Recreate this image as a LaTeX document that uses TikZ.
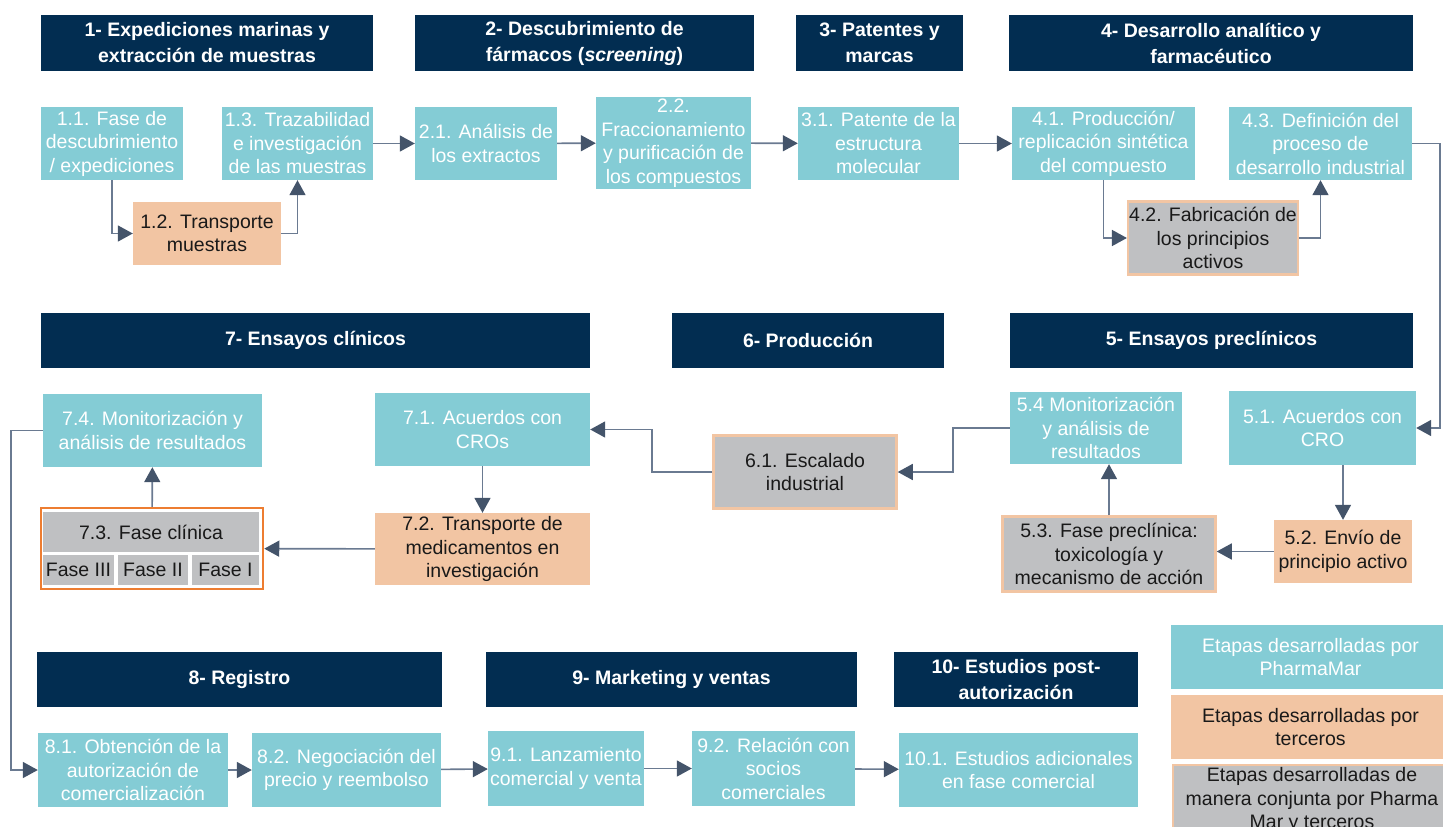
\documentclass[tikz,border=0pt]{standalone}
\usepackage{fontspec}
\setmainfont{Liberation Sans}
\usetikzlibrary{arrows.meta}
\definecolor{pmnavy}{HTML}{022D51}
\definecolor{pmteal}{HTML}{84CCD5}
\definecolor{pmpeach}{HTML}{F2C5A3}
\definecolor{pmgrey}{HTML}{BFC0C2}
\definecolor{pmorange}{HTML}{ED7D31}
\definecolor{pmline}{HTML}{6A7A91}
\definecolor{pmtip}{HTML}{44546A}
\newcommand{\boxfont}{\fontsize{19.5}{23.5}\selectfont}
\tikzset{
  every node/.style={inner sep=1pt, align=center},
  sz/.style 2 args={minimum width=#1, minimum height=#2},
  hdr/.style={fill=pmnavy, text=white, font=\bfseries\fontsize{19.5}{26}\selectfont},
  pm/.style={fill=pmteal, text=white, font=\boxfont},
  ter/.style={fill=pmpeach, text=black!90, font=\boxfont},
  mix/.style={fill=pmgrey, draw=pmpeach, line width=2.5pt, text=black!90, font=\boxfont},
  cell/.style={fill=pmgrey, text=black!90, font=\boxfont},
  flow/.style={draw=pmline, line width=1.6pt, -{Triangle[length=15pt,width=16pt,color=pmtip]}}
}
\begin{document}
\begin{tikzpicture}[x=1pt,y=-1pt]
\path[use as bounding box] (0,0) rectangle (1443,827);
\clip (0,0) rectangle (1443,827);
\fill[white] (0,0) rectangle (1443,827);

% headers
\node[hdr, sz={332}{56}] (h1) at (207,43) {1- Expediciones marinas y\\extracción de muestras};
\node[hdr, sz={339}{56}] (h2) at (584.5,43) {2- Descubrimiento de\\fármacos (\textit{screening})};
\node[hdr, sz={167}{56}] (h3) at (879.5,43) {3- Patentes y\\marcas};
\node[hdr, sz={404}{56}] (h4) at (1211,43) {4- Desarrollo analítico y\\farmacéutico};
\node[hdr, sz={549}{55}] (h7) at (315.5,340.5) {7- Ensayos clínicos};
\node[hdr, sz={272}{55}] (h6) at (808,340.5) {6- Producción};
\node[hdr, sz={403}{55}] (h5) at (1211.5,340.5) {5- Ensayos preclínicos};
\node[hdr, sz={405}{55}] (h8) at (239.5,679.5) {8- Registro};
\node[hdr, sz={371}{55}] (h9) at (671.5,679.5) {9- Marketing y ventas};
\node[hdr, sz={244}{55}] (h10) at (1016,679.5) {10- Estudios post-\\autorización};

% row 1
\node[pm, sz={142}{73}] (n11) at (112,143.5) {1.1. Fase de\\descubrimiento\\/ expediciones};
\node[ter, sz={148}{63}] (n12) at (207,233.5) {1.2. Transporte\\muestras};
\node[pm, sz={151}{73}] (n13) at (297.5,143.5) {1.3. Trazabilidad\\e investigación\\de las muestras};
\node[pm, sz={142}{73}] (n21) at (486,143.5) {2.1. Análisis de\\los extractos};
\node[pm, sz={155}{92}] (n22) at (673.5,143) {2.2.\\Fraccionamiento\\y purificación de\\los compuestos};
\node[pm, sz={161}{73}] (n31) at (878.5,143.5) {3.1. Patente de la\\estructura\\molecular};
\node[pm, sz={183}{73}] (n41) at (1103.5,143.5) {4.1. Producción/\\replicación sintética\\del compuesto};
\node[mix, sz={167}{73}] (n42) at (1213,238) {4.2. Fabricación de\\los principios\\activos};
\node[pm, sz={183}{73}] (n43) at (1320.5,143.5) {4.3. Definición del\\proceso de\\desarrollo industrial};

% row 2
\node[pm, sz={187}{74}] (n51) at (1322.5,428) {5.1. Acuerdos con\\CRO};
\node[ter, sz={138}{63}] (n52) at (1343,551.5) {5.2. Envío de\\principio activo};
\node[mix, sz={213}{75}] (n53) at (1109,554) {5.3. Fase preclínica:\\toxicología y\\mecanismo de acción};
\node[pm, sz={172}{72}] (n54) at (1096,428) {5.4 Monitorización\\y análisis de\\resultados};
\node[mix, sz={183}{73}] (n61) at (805,472) {6.1. Escalado\\industrial};
\node[pm, sz={215}{73}] (n71) at (482.5,429.5) {7.1. Acuerdos con\\CROs};
\node[ter, sz={215}{72}] (n72) at (482.5,549) {7.2. Transporte de\\medicamentos en\\investigación};
\node[draw=pmorange, fill=white, line width=2.5pt, sz={222}{81}] (n73) at (152,548.5) {};
\node[cell, sz={216}{40}] (n73a) at (151,532) {7.3. Fase clínica};
\node[cell, sz={71}{30}] (n73b) at (78.5,570) {Fase III};
\node[cell, sz={70}{30}] (n73c) at (153,570) {Fase II};
\node[cell, sz={67}{30}] (n73d) at (225.5,570) {Fase I};
\node[pm, sz={219}{73}] (n74) at (152.5,430.5) {7.4. Monitorización y\\análisis de resultados};

% row 3
\node[pm, sz={190}{74}] (n81) at (133,770) {8.1. Obtención de la\\autorización de\\comercialización};
\node[pm, sz={189}{74}] (n82) at (346.5,770) {8.2. Negociación del\\precio y reembolso};
\node[pm, sz={156}{75}] (n91) at (566,768.5) {9.1. Lanzamiento\\comercial y venta};
\node[pm, sz={163}{75}] (n92) at (773.5,768.5) {9.2. Relación con\\socios\\comerciales};
\node[pm, sz={239}{74}] (n101) at (1018.5,770) {10.1. Estudios adicionales\\en fase comercial};

% legend
\node[pm, sz={279}{64}] (l1) at (1310.5,657) {Etapas desarrolladas por\\PharmaMar};
\node[ter, sz={279}{64}] (l2) at (1310.5,727) {Etapas desarrolladas por\\terceros};
\node[mix, line width=1.5pt, sz={278}{70}] (l3) at (1312,800) {Etapas desarrolladas de\\manera conjunta por Pharma\\Mar y terceros};

% connectors
\draw[flow] (n11) |- (n12);
\draw[flow] (n12) -| (n13);
\draw[flow] (n13) -- (n21);
\draw[flow] (n21) -- (n22);
\draw[flow] (n22) -- (n31);
\draw[flow] (n31) -- (n41);
\draw[flow] (n41) |- (n42);
\draw[flow] (n42) -| (n43);
\coordinate (xr) at (1440,0);
\draw[flow] (n43.east) -- (n43.east -| xr) |- (n51.east);
\draw[flow] (n52 |- n51.south) -- (n52);
\draw[flow] (n52.west) -- (n52.west -| n53.east);
\draw[flow] (n53.north) -- (n53.north |- n54.south);
\draw[flow] (n54.west) -- ++(-57,0) |- (n61.east);
\draw[flow] (n61.west) -- ++(-60,0) |- (n71.east);
\draw[flow] (n71) -- (n72);
\draw[flow] (n72) -- (n73);
\draw[flow] (n73) -- (n74);
\draw[flow] (n74.west) -- ++(-32,0) |- (n81.west);
\draw[flow] (n81) -- (n82);
\draw[flow] (n82) -- (n91);
\draw[flow] (n91) -- (n92);
\draw[flow] (n92) -- (n101);
\end{tikzpicture}
\end{document}
